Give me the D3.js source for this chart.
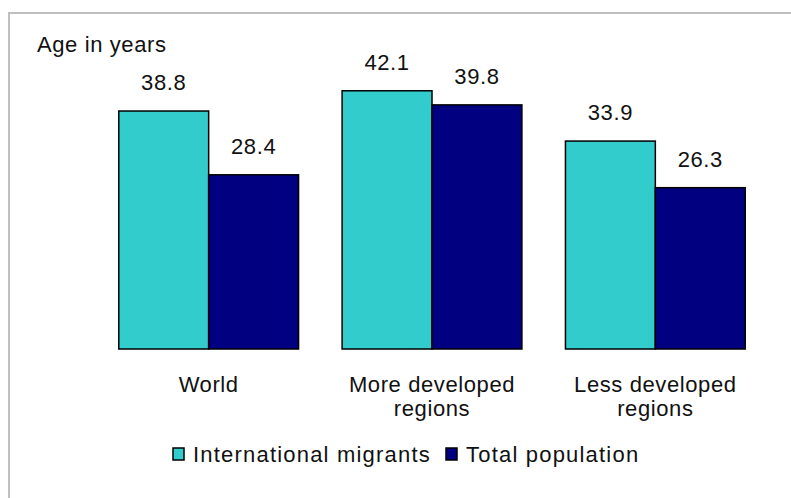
<!DOCTYPE html>
<html>
<head>
<meta charset="utf-8">
<script src="https://cdn.jsdelivr.net/npm/d3@7"></script>
<style>
  html, body { margin: 0; padding: 0; background: #fff; }
  svg text { font-family: Arial, "Liberation Sans", sans-serif; fill: #111; letter-spacing: 0.6px; }
  svg text.legend-label { letter-spacing: 1.2px; }
</style>
</head>
<body>
<svg id="chart" width="791" height="498"></svg>
<script>
// Median age of international migrants vs. total population, by region
const categories = ["World", "More developed regions", "Less developed regions"];
const categoryLines = [["World"], ["More developed", "regions"], ["Less developed", "regions"]];
const series = ["International migrants", "Total population"];
const migrants = [38.8, 42.1, 33.9];
const totalPopulation = [28.4, 39.8, 26.3];
const colors = ["#33CCCC", "#000080"];
const yAxisTitle = "Age in years";

const svg = d3.select("#chart");
const W = 791, H = 498;
const fontSize = 22;

svg.append("rect").attr("width", W).attr("height", H).attr("fill", "#fff");

// frame (top and left edges visible)
svg.append("path")
  .attr("d", `M9,${H} L9,13 L${W},13`)
  .attr("fill", "none")
  .attr("stroke", "#bfbfbf")
  .attr("stroke-width", 2);

const x = d3.scaleBand()
  .domain(categories)
  .range([97, 767])
  .paddingInner(0.195)
  .paddingOuter(0.0975);

const xInner = d3.scaleBand()
  .domain(series)
  .range([0, x.bandwidth()]);

const y = d3.scaleLinear().domain([0, 45]).range([349, 73]);

const rows = categories.map((c, i) => ({
  category: c,
  lines: categoryLines[i],
  values: [
    { key: series[0], value: migrants[i], color: colors[0] },
    { key: series[1], value: totalPopulation[i], color: colors[1] }
  ]
}));

const groups = svg.append("g").selectAll("g")
  .data(rows)
  .join("g")
  .attr("transform", d => `translate(${x(d.category)},0)`);

groups.selectAll("rect")
  .data(d => d.values)
  .join("rect")
  .attr("x", d => xInner(d.key))
  .attr("y", d => y(d.value))
  .attr("width", xInner.bandwidth())
  .attr("height", d => y(0) - y(d.value))
  .attr("fill", d => d.color)
  .attr("stroke", "#000")
  .attr("stroke-width", 1.5);

groups.selectAll("text.value")
  .data(d => d.values)
  .join("text")
  .attr("class", "value")
  .attr("x", d => xInner(d.key) + xInner.bandwidth() / 2)
  .attr("y", d => y(d.value) - 21)
  .attr("text-anchor", "middle")
  .attr("font-size", fontSize)
  .text(d => d.value.toFixed(1));

// category labels
groups.append("text")
  .attr("class", "cat")
  .attr("x", x.bandwidth() / 2)
  .attr("y", 392)
  .attr("text-anchor", "middle")
  .attr("font-size", fontSize)
  .selectAll("tspan")
  .data(d => d.lines)
  .join("tspan")
  .attr("x", x.bandwidth() / 2)
  .attr("dy", (d, i) => i === 0 ? 0 : 24)
  .text(d => d);

// axis title
svg.append("text")
  .attr("x", 37)
  .attr("y", 52)
  .attr("font-size", fontSize)
  .text(yAxisTitle);

// legend
const legendX = [173, 446];
const legend = svg.append("g").selectAll("g")
  .data(series)
  .join("g")
  .attr("transform", (d, i) => `translate(${legendX[i]},448)`);

legend.append("rect")
  .attr("width", 11)
  .attr("height", 12)
  .attr("fill", (d, i) => colors[i])
  .attr("stroke", "#000")
  .attr("stroke-width", 1.5);

legend.append("text")
  .attr("class", "legend-label")
  .attr("x", 20)
  .attr("y", 14)
  .attr("font-size", fontSize)
  .text(d => d);
</script>
</body>
</html>
